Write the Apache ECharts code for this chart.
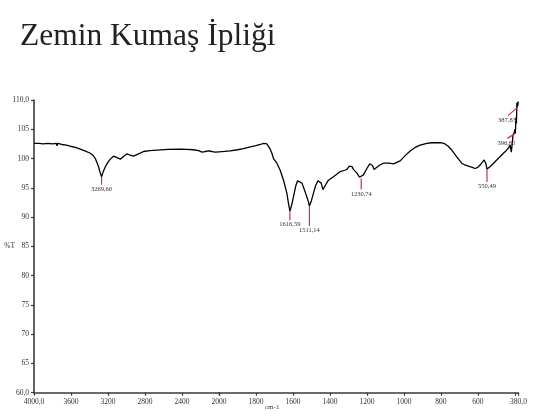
<!DOCTYPE html>
<html>
<head>
<meta charset="utf-8">
<script src="https://cdn.jsdelivr.net/npm/echarts@6/dist/echarts.min.js"></script>
<style>
  html, body { margin: 0; padding: 0; background: #ffffff; }
  #chart { width: 534px; height: 420px; }
</style>
</head>
<body>
<div id="chart"></div>
<script>
// FTIR spectrum: wavenumber (cm-1) and transmittance (%T)
const wavenumbers = [
  4000, 3950, 3900, 3850, 3800, 3760, 3751, 3742, 3700, 3650, 3608, 3550, 3500, 3450,
  3391, 3360, 3337, 3302, 3285, 3269.6, 3255, 3229, 3200, 3175, 3140, 3121, 3095, 3067,
  3035, 2995, 2960, 2923, 2870, 2815, 2750, 2670, 2550, 2418, 2350, 2278, 2220, 2184,
  2150, 2112, 2075, 2040, 2000, 1939, 1900, 1867, 1831, 1800, 1777, 1759, 1741, 1732,
  1723, 1714, 1705, 1687, 1669, 1651, 1633, 1625, 1616.59, 1605, 1597, 1585, 1575, 1565,
  1551, 1534, 1516, 1511.14, 1500, 1489, 1478, 1465, 1456, 1447, 1438, 1430, 1420, 1408,
  1381, 1360, 1345, 1320, 1308, 1295, 1288, 1280, 1273, 1254, 1240, 1230.74, 1219, 1200,
  1185, 1179, 1170, 1161, 1146, 1130, 1110, 1080, 1056, 1020, 993, 966, 939, 912,
  876, 850, 822, 800, 777, 760, 741, 714, 687, 670, 651, 630, 615, 600,
  588, 575, 566, 557, 550.49, 540, 534, 515, 498, 480, 462, 448, 435, 425,
  422, 419, 414, 410, 404, 399, 396.8, 394, 391, 389, 387.83, 386, 384, 382, 380
];
const transmittance = [
  102.6, 102.6, 102.5, 102.6, 102.5, 102.6, 102.2, 102.6, 102.4, 102.3, 102.1, 101.9, 101.6, 101.3,
  100.9, 100.5, 100.0, 98.6, 97.6, 96.9, 97.6, 98.6, 99.4, 99.9, 100.4, 100.3, 100.1, 99.9,
  100.3, 100.8, 100.6, 100.4, 100.8, 101.2, 101.35, 101.45, 101.55, 101.6, 101.55, 101.5, 101.35, 101.1,
  101.2, 101.3, 101.2, 101.1, 101.15, 101.3, 101.5, 101.7, 102.0, 102.2, 102.4, 102.6, 102.5, 102.3,
  101.6, 100.9, 100.0, 99.2, 98.0, 96.3, 94.1, 92.5, 91.0, 92.3, 93.5, 95.3, 96.2, 96.2,
  95.8, 94.3, 92.6, 91.9, 92.8, 94.1, 95.3, 96.2, 96.45, 95.8, 94.7, 95.0, 95.7, 96.3,
  96.9, 97.4, 97.75, 98.0, 98.15, 98.7, 98.9, 98.6, 98.15, 97.5, 96.8, 96.6, 97.2, 98.3,
  99.1, 99.2, 98.8, 98.15, 98.5, 98.9, 99.2, 99.2, 99.1, 99.6, 100.5, 101.3, 101.9, 102.3,
  102.6, 102.7, 102.7, 102.7, 102.5, 102.1, 101.45, 100.3, 99.2, 98.9, 98.7, 98.5, 98.3, 98.5,
  98.9, 99.4, 99.75, 99.2, 98.2, 98.5, 98.6, 99.2, 99.75, 100.3, 100.9, 101.3, 101.75, 102.3,
  102.6, 101.1, 102.5, 104.0, 104.4, 105.0, 104.3, 107.0, 106.0, 109.5, 108.7, 109.6, 109.0, 109.7, 109.5
];

// Labelled absorption bands
const peakWavenumbers = [3269.60, 1616.59, 1511.14, 1230.74, 550.49, 396.80, 387.83];
const peakTransmittance = [96.9, 91.0, 91.9, 96.6, 98.2, 104.3, 108.7];

// Axis tick labels (scale doubles below 2000 cm-1)
const highTicks = [2000, 2400, 2800, 3200, 3600, 4000];
const lowTicks = [380, 400, 600, 800, 1000, 1200, 1400, 1600, 1800, 2000];
const lowLabels = [380, 600, 800, 1000, 1200, 1400, 1600, 1800];

const SPLIT = 2000;
const points = wavenumbers.map((w, i) => [w, transmittance[i]]);
const highPart = points.filter(p => p[0] >= SPLIT);
const lowPart = points.filter(p => p[0] <= SPLIT);
const peaks = peakWavenumbers.map((w, i) => [w, peakTransmittance[i]]);

// Leader line for each band label: vertical drop (len) or a slanted pointer (dx, dy)
const leaderStyle = {
  '3269.6': { len: 8 }, '1616.59': { len: 9 }, '1511.14': { len: 20 },
  '1230.74': { len: 11 }, '550.49': { len: 13 },
  '396.8': { dx: -8, dy: 5 }, '387.83': { dx: -9, dy: 8 }
};

const SERIF = '"Liberation Serif", "Times New Roman", serif';
const AXIS_COLOR = '#3a3a3a';
const TEXT_COLOR = '#333333';
const RED = '#e8283c';

function fmtComma(v, digits) {
  return v.toFixed(digits).replace('.', ',');
}

function renderPeak(params, api) {
  const w = api.value(0);
  const t = api.value(1);
  const p = api.coord([w, t]);
  const st = leaderStyle[String(w)] || { len: 10 };
  const text = fmtComma(w, 2);
  let x2, y2, tx, ty;
  if (st.len !== undefined) {
    x2 = p[0]; y2 = p[1] + st.len;
    tx = p[0]; ty = y2 + 1;
  } else {
    x2 = p[0] + st.dx; y2 = p[1] + st.dy;
    tx = x2 - 1; ty = y2 + 1;
  }
  return {
    type: 'group',
    children: [
      { type: 'line', shape: { x1: p[0], y1: p[1], x2: x2, y2: y2 },
        style: { stroke: RED, lineWidth: 1.2 } },
      { type: 'text', style: { x: tx, y: ty, text: text, fill: TEXT_COLOR,
        font: '6.5px ' + SERIF, textAlign: 'center', textVerticalAlign: 'top' } }
    ]
  };
}

const axisCommon = {
  type: 'value',
  inverse: true,
  axisLine: { show: true, lineStyle: { color: AXIS_COLOR, width: 1.6 } },
  axisTick: { show: true, length: 3, lineStyle: { color: AXIS_COLOR, width: 1.2 } },
  splitLine: { show: false },
  axisLabel: { color: TEXT_COLOR, fontFamily: SERIF, fontSize: 7.5, margin: 5 }
};

const chart = echarts.init(document.getElementById('chart'), null, { renderer: 'canvas' });

chart.setOption({
  animation: false,
  backgroundColor: '#ffffff',
  title: {
    text: 'Zemin Kumaş İpliği',
    left: 20, top: 21, padding: 0,
    textStyle: { fontFamily: SERIF, fontSize: 31.5, fontWeight: 'normal', color: '#222222' }
  },
  grid: [
    { left: 34, top: 100, width: 185, height: 292.7, containLabel: false, outerBoundsMode: 'none' },
    { left: 219, top: 100, width: 299.5, height: 292.7, containLabel: false, outerBoundsMode: 'none' }
  ],
  xAxis: [
    Object.assign({}, axisCommon, {
      gridIndex: 0, min: 2000, max: 4000,
      axisTick: Object.assign({}, axisCommon.axisTick, { customValues: highTicks }),
      axisLabel: Object.assign({}, axisCommon.axisLabel, {
        customValues: highTicks.filter(v => v !== SPLIT),
        formatter: v => (v === 4000 ? fmtComma(v, 1) : String(v))
      })
    }),
    Object.assign({}, axisCommon, {
      gridIndex: 1, min: 380, max: 2000,
      axisTick: Object.assign({}, axisCommon.axisTick, { customValues: lowTicks }),
      axisLabel: Object.assign({}, axisCommon.axisLabel, {
        customValues: lowLabels.concat([SPLIT]),
        formatter: v => (v === 380 ? fmtComma(v, 1) : String(v))
      })
    })
  ],
  yAxis: [
    {
      type: 'value', gridIndex: 0, min: 60, max: 110, interval: 5,
      name: '%T', nameLocation: 'middle', nameRotate: 0, nameGap: 19, nameMoveOverlap: false,
      nameTextStyle: { color: TEXT_COLOR, fontFamily: SERIF, fontSize: 7.5 },
      axisLine: { show: true, lineStyle: { color: AXIS_COLOR, width: 1.6 } },
      axisTick: { show: true, length: 3, lineStyle: { color: AXIS_COLOR, width: 1.2 } },
      splitLine: { show: false },
      axisLabel: {
        color: TEXT_COLOR, fontFamily: SERIF, fontSize: 7.5, margin: 5,
        formatter: v => (v === 60 || v === 110 ? fmtComma(v, 1) : String(v))
      }
    },
    { type: 'value', gridIndex: 1, min: 60, max: 110, show: false }
  ],
  graphic: [
    { type: 'text', left: 265, top: 404,
      style: { text: 'cm-1', fill: TEXT_COLOR, font: '7px ' + SERIF } }
  ],
  series: [
    { type: 'line', xAxisIndex: 0, yAxisIndex: 0, data: highPart, showSymbol: false,
      lineStyle: { color: '#000000', width: 1.3 }, silent: true },
    { type: 'line', xAxisIndex: 1, yAxisIndex: 1, data: lowPart, showSymbol: false,
      lineStyle: { color: '#000000', width: 1.3 }, silent: true },
    { type: 'custom', xAxisIndex: 0, yAxisIndex: 0, renderItem: renderPeak,
      data: peaks.filter(p => p[0] >= SPLIT), silent: true, z: 5 },
    { type: 'custom', xAxisIndex: 1, yAxisIndex: 1, renderItem: renderPeak,
      data: peaks.filter(p => p[0] < SPLIT), silent: true, z: 5 }
  ]
});
</script>
</body>
</html>
